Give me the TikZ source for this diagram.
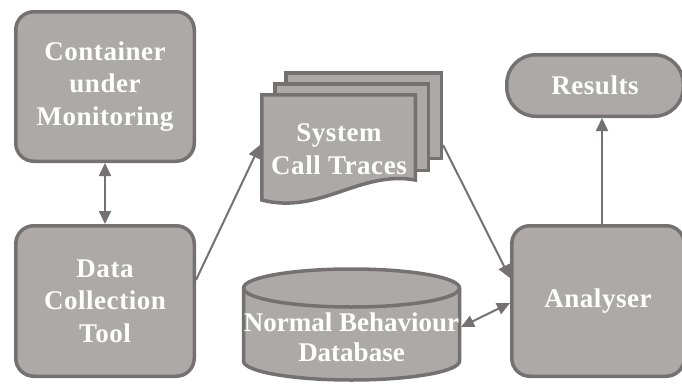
\documentclass[tikz,border=0pt]{standalone}
\usepackage{fontspec}
\setmainfont{Liberation Serif}
\newfontfamily\spacedserif[LetterSpace=2]{Liberation Serif}
\usetikzlibrary{arrows.meta,calc}
\definecolor{boxfill}{HTML}{ADA9A8}
\definecolor{boxline}{HTML}{757172}

\begin{document}
\begin{tikzpicture}[x=1pt,y=-1pt,
  every node/.style={font=\spacedserif\fontsize{27}{32.5}\selectfont\bfseries, text=white, align=center},
  box/.style={draw=boxline, fill=boxfill, line width=3.5pt, rounded corners=18pt, inner sep=0pt},
  page/.style={draw=boxline, fill=boxfill, line width=3.5pt},
  link/.style={draw=boxline, line width=2pt, -{Triangle[length=13pt,width=12pt]}},
  duallink/.style={draw=boxline, line width=2pt, {Triangle[length=13pt,width=12pt]}-{Triangle[length=13pt,width=12pt]}}
]
\useasboundingbox (0,0) rectangle (682,383);
\clip (0,0) rectangle (682,383);

% process boxes
\node[box, minimum width=178.5pt, minimum height=149.5pt] (cont) at (105,86.5) {Container\\under\\Monitoring};
\node[box, minimum width=178.5pt, minimum height=150.5pt] (data) at (105,301) {Data\\Collection\\Tool};
\node[box, minimum width=172.5pt, minimum height=150.5pt] (ana) at (598,301) {Analyser};
\node[box, rounded corners=29pt, minimum width=176.5pt, minimum height=61.5pt] (res) at (595,85.5) {Results};

% stacked trace documents
\path[page] (285.75,72.75) rectangle (441.25,158.25);
\path[page] (274.75,83.75) rectangle (428.25,170.25);
\path[page] (261.75,94.75) -- (415.25,94.75) -- (415.25,180)
  .. controls (360,170) and (320,215) .. (261.75,200) -- cycle;
\node (traces) at (339,149) {System\\Call Traces};
\coordinate (tracesIn) at (260,145);
\coordinate (tracesOut) at (443,145);

% database cylinder
\path[page] (243.5,288) -- (243.5,361)
  arc[start angle=180, end angle=0, x radius=108, y radius=19]
  -- (459.5,288)
  arc[start angle=0, end angle=-180, x radius=108, y radius=19] -- cycle;
\draw[boxline, line width=3.5pt] (243.5,288)
  arc[start angle=180, end angle=0, x radius=108, y radius=19];
\node[font=\rmfamily\fontsize{27}{30}\selectfont\bfseries] (db) at (351.5,337.5) {Normal Behaviour\\Database};
\coordinate (dbOut) at (461,327);

% connectors
\draw[duallink] (cont) -- (data);
\draw[link] ([yshift=21pt]data.east) -- (tracesIn);
\draw[link] (tracesOut) -- ([yshift=23pt]ana.west);
\draw[duallink] (dbOut) -- ([yshift=-2pt]ana.west);
\draw[link] ([xshift=4pt]ana.north) -- ([xshift=4pt]ana.north |- res.south);
\end{tikzpicture}
\end{document}
